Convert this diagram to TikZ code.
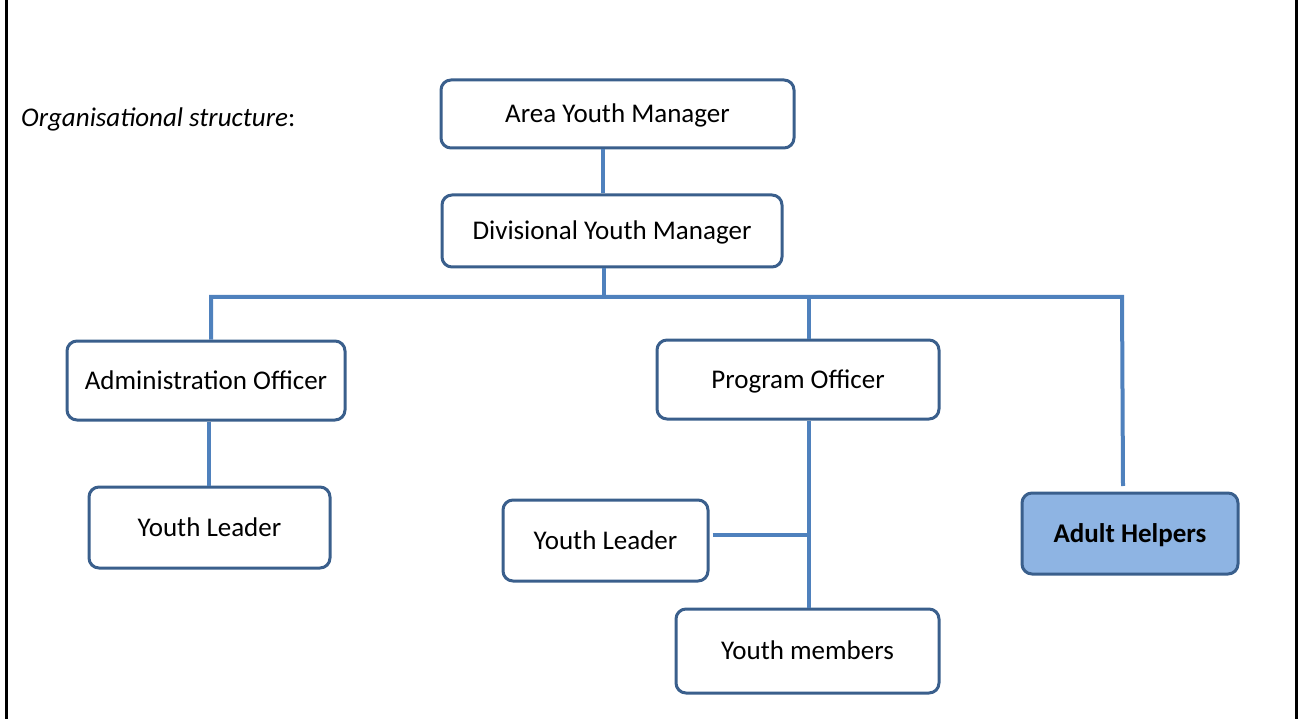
\documentclass[tikz,border=0pt]{standalone}
\usepackage{fontspec}
\setmainfont{Carlito}
\definecolor{boxline}{HTML}{3A5F8C}
\definecolor{conn}{HTML}{4F81BD}
\definecolor{helperfill}{HTML}{8EB4E3}
\begin{document}
\begin{tikzpicture}[x=1pt,y=-1pt,
  box/.style={draw=boxline,line width=3pt,rounded corners=10pt,fill=white,inner sep=0pt,text height=20pt,text depth=3pt,font=\fontsize{27}{32}\selectfont},
  link/.style={draw=conn,line width=4pt}]
\useasboundingbox (0,0) rectangle (1298,719);
\draw[line width=3pt] (6,0) -- (6,719);
\draw[line width=3pt] (1296,0) -- (1296,719);
\node[anchor=west,inner sep=0pt,text height=20pt,text depth=3pt,font=\fontsize{27}{32}\selectfont] (title) at (21,118) {\textit{Organisational structure}:};
% boxes
\node[box,minimum width=353pt,minimum height=68pt] (aym) at (617.5,114) {Area Youth Manager};
\node[box,minimum width=340pt,minimum height=72pt] (dym) at (612,231) {Divisional Youth Manager};
\node[box,minimum width=278pt,minimum height=79pt] (ao) at (206,380.5) {Administration Officer};
\node[box,minimum width=282pt,minimum height=79pt] (po) at (798,379.5) {Program Officer};
\node[box,minimum width=241pt,minimum height=81pt] (yl1) at (209.5,527.5) {Youth Leader};
\node[box,minimum width=205pt,minimum height=81pt] (yl2) at (605.5,540.5) {Youth Leader};
\node[box,minimum width=263pt,minimum height=84pt] (ym) at (807.5,651) {Youth members};
\node[box,fill=helperfill,minimum width=216pt,minimum height=81pt,font=\fontsize{27}{32}\selectfont\bfseries] (ah) at (1130,533.5) {Adult Helpers};
% connectors
\coordinate (busL) at (211,297);
\coordinate (busR) at (1122,297);
\coordinate (busM) at (604,297);
\coordinate (busP) at (809,297);
\coordinate (ahTop) at (1123,486);
\coordinate (poJ) at (809,535);
\draw[link] (aym.south -| 603,0) -- (dym.north -| 603,0);
\draw[link] (dym.south -| busM) -- (busM);
\draw[link] (ao.north -| busL) -- (busL) -- (busR) -- (ahTop);
\draw[link] (busP) -- (po.north -| busP);
\draw[link] (ao.south -| 209,0) -- (yl1.north -| 209,0);
\draw[link] (po.south -| poJ) -- (ym.north -| poJ);
\draw[link] (yl2.east |- poJ) ++(3,0) -- (poJ);
\end{tikzpicture}
\end{document}
